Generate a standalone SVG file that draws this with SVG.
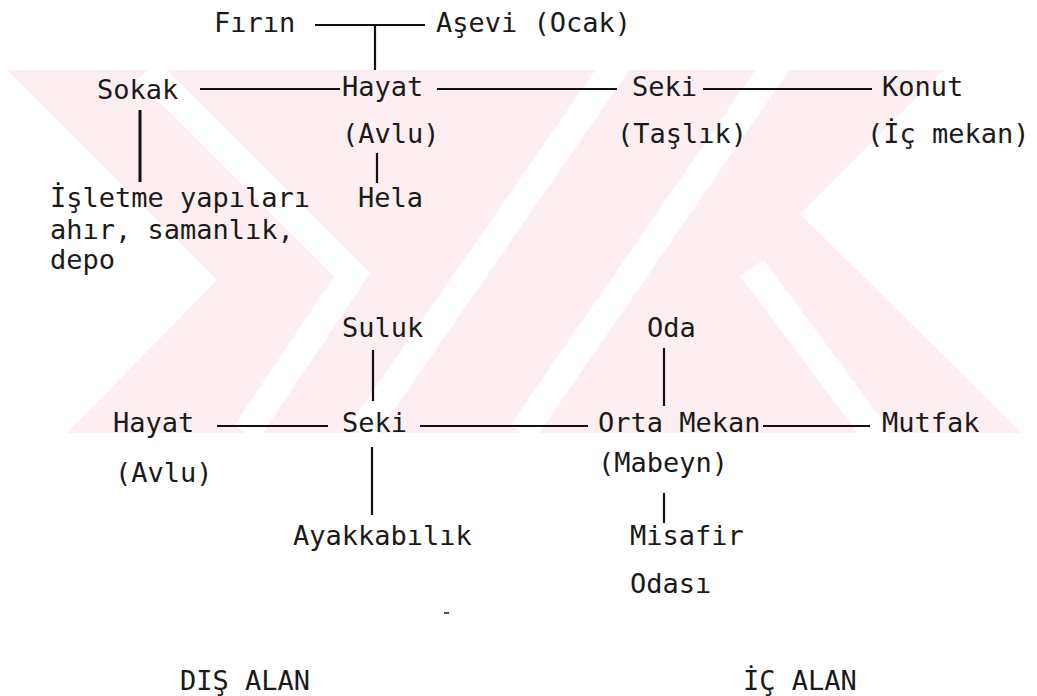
<svg xmlns="http://www.w3.org/2000/svg" width="1037" height="696" viewBox="0 0 1037 696">
<style>
text{font-family:"DejaVu Sans Mono","Liberation Mono",monospace;font-size:27px;fill:#1a1a1a}
.c line{stroke:#111;stroke-width:2.2}
.wm{fill:#fdeff1}
.ws{stroke:#fff;stroke-width:28;fill:none}
</style>
<defs><clipPath id="band"><rect x="0" y="70" width="1037" height="363"/></clipPath></defs>
<g id="watermark" clip-path="url(#band)">
<polygon class="wm" points="7,70 944,70 800,214 1022,433 67,433 217,280"/>
<polyline class="ws" points="147,70 352,275 246,433"/>
<line class="ws" x1="640" y1="30" x2="361" y2="433"/>
<line class="ws" x1="800" y1="30" x2="522" y2="433"/>
<line class="ws" x1="752" y1="268" x2="880" y2="440"/>
</g>
<g class="c" id="connectors">
<line x1="315" y1="25" x2="425" y2="25"/>
<line x1="375" y1="25" x2="375" y2="70"/>
<line x1="200" y1="89" x2="340" y2="89"/>
<line x1="437" y1="89" x2="617" y2="89"/>
<line x1="703" y1="89" x2="872" y2="89"/>
<line x1="140" y1="110" x2="140" y2="182" style="stroke-width:3"/>
<line x1="377" y1="153" x2="377" y2="183"/>
<line x1="373" y1="350" x2="373" y2="401"/>
<line x1="217" y1="426" x2="328" y2="426"/>
<line x1="420" y1="426" x2="588" y2="426"/>
<line x1="763" y1="426" x2="870" y2="426"/>
<line x1="372" y1="447" x2="372" y2="515"/>
<line x1="664" y1="348" x2="664" y2="406"/>
<line x1="664" y1="493" x2="664" y2="523"/>
<line x1="444" y1="613" x2="449" y2="613" style="stroke-width:1.5"/>
</g>
<g id="n-firin"><text x="214" y="32">Fırın</text></g>
<g id="n-asevi"><text x="436" y="32">Aşevi (Ocak)</text></g>
<g id="n-sokak"><text x="97" y="99">Sokak</text></g>
<g id="n-hayat1"><text x="342" y="96">Hayat</text><text x="342" y="143">(Avlu)</text></g>
<g id="n-seki1"><text x="632" y="96">Seki</text><text x="617" y="143">(Taşlık)</text></g>
<g id="n-konut"><text x="882" y="96">Konut</text><text x="867" y="143">(İç mekan)</text></g>
<g id="n-hela"><text x="358" y="207">Hela</text></g>
<g id="n-isletme"><text x="50" y="207">İşletme yapıları</text><text x="50" y="239">ahır, samanlık,</text><text x="50" y="269">depo</text></g>
<g id="n-suluk"><text x="342" y="337">Suluk</text></g>
<g id="n-oda"><text x="647" y="337">Oda</text></g>
<g id="n-hayat2"><text x="113" y="432">Hayat</text><text x="115" y="482">(Avlu)</text></g>
<g id="n-seki2"><text x="342" y="432">Seki</text></g>
<g id="n-orta"><text x="598" y="432">Orta Mekan</text><text x="598" y="472">(Mabeyn)</text></g>
<g id="n-mutfak"><text x="882" y="432">Mutfak</text></g>
<g id="n-ayakkabilik"><text x="293" y="545">Ayakkabılık</text></g>
<g id="n-misafir"><text x="630" y="545">Misafir</text><text x="630" y="593">Odası</text></g>
<g id="l-dis"><text x="180" y="690">DIŞ ALAN</text></g>
<g id="l-ic"><text x="743" y="690">İÇ ALAN</text></g>
</svg>
